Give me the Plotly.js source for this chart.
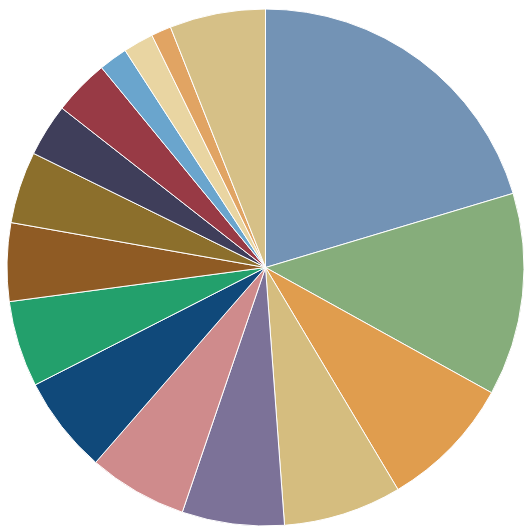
<!DOCTYPE html>
<html>
<head>
<meta charset="utf-8">
<script src="https://cdn.plot.ly/plotly-3.0.1.min.js"></script>
<style>
  html, body { margin: 0; padding: 0; background: #ffffff; }
  #chart { width: 528px; height: 529px; }
</style>
</head>
<body>
<div id="chart"></div>
<script>
const categories = ["A", "B", "C", "D", "E", "F", "G", "H", "I", "J", "K", "L", "M", "N", "O", "Other"];
const values = [20.4, 12.7, 8.4, 7.4, 6.4, 6.2, 6.1, 5.4, 4.9, 4.5, 3.3, 3.5, 1.8, 1.9, 1.25, 6.0];
const colors = ["#7393b5", "#86ad7b", "#e09d4e", "#d5bd7f", "#7c7298", "#cf8b8c", "#10497a",
                "#23a06c", "#8f5b24", "#8c6f2c", "#3f3e5a", "#983a45", "#6aa5cd", "#e9d5a2",
                "#e1a463", "#d6c087"];

Plotly.newPlot("chart", [{
  type: "pie",
  labels: categories,
  values: values,
  sort: false,
  direction: "clockwise",
  rotation: 0,
  textinfo: "none",
  hoverinfo: "label+percent",
  marker: { colors: colors, line: { color: "#ffffff", width: 1 } }
}], {
  width: 528,
  height: 529,
  margin: { l: 7, r: 4, t: 8, b: 2 },
  showlegend: false,
  paper_bgcolor: "#ffffff"
}, { displayModeBar: false, staticPlot: true });
</script>
</body>
</html>
